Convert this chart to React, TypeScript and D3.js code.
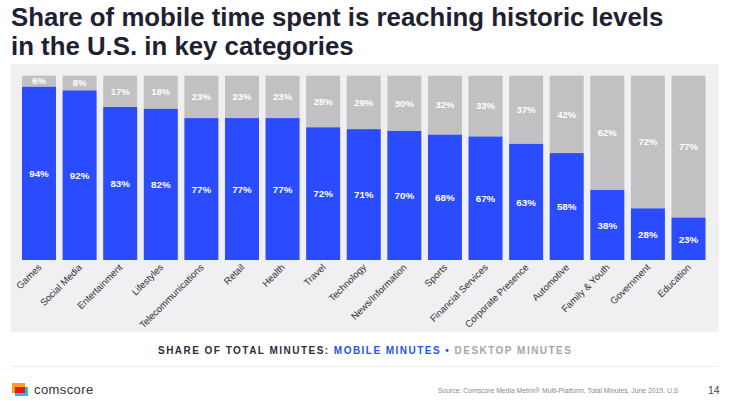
import * as d3 from "d3";

const categories = [
  "Games", "Social Media", "Entertainment", "Lifestyles", "Telecommunications",
  "Retail", "Health", "Travel", "Technology", "News/Information", "Sports",
  "Financial Services", "Corporate Presence", "Automotive", "Family & Youth",
  "Government", "Education",
];
const mobile = [94, 92, 83, 82, 77, 77, 77, 72, 71, 70, 68, 67, 63, 58, 38, 28, 23];
const desktop = [6, 8, 17, 18, 23, 23, 23, 28, 29, 30, 32, 33, 37, 42, 62, 72, 77];

const BLUE = "#2b4bff";
const GREY = "#c1c1c3";
const FONT = "'Liberation Sans', Arial, sans-serif";

export default function App() {
  const x = d3.scaleBand<string>().domain(categories).range([22, 705.5]).paddingInner(0.162);
  const y = d3.scaleLinear().domain([0, 100]).range([260, 75.7]);

  return (
    <svg
      width={729}
      height={401}
      viewBox="0 0 729 401"
      style={{ position: "absolute", left: 0, top: 0, background: "#fff" }}
      fontFamily={FONT}
    >
      <text x={11} y={26} fontSize={25.8} fontWeight="bold" fill="#1d2130">
        Share of mobile time spent is reaching historic levels
      </text>
      <text x={11} y={55} fontSize={25.8} fontWeight="bold" fill="#1d2130">
        in the U.S. in key categories
      </text>

      <rect x={11} y={64} width={708} height={268} fill="#f0eff1" />

      {categories.map((c, i) => {
        const bx = x(c)!;
        const w = x.bandwidth();
        const cx = bx + w / 2;
        const yTop = y(mobile[i]);
        const yFull = y(mobile[i] + desktop[i]);
        return (
          <g key={c}>
            <rect x={bx} y={yFull} width={w} height={yTop - yFull} fill={GREY} />
            <rect x={bx} y={yTop} width={w} height={y(0) - yTop} fill={BLUE} />
            <text x={cx} y={(yFull + yTop) / 2 + 3.2} textAnchor="middle" fontSize={9.5} fontWeight="bold" fill="#fff">
              {desktop[i]}%
            </text>
            <text x={cx} y={(yTop + y(0)) / 2 + 3.8} textAnchor="middle" fontSize={9.8} fontWeight="bold" fill="#fff">
              {mobile[i]}%
            </text>
            <text
              transform={`translate(${cx + 3},${268}) rotate(-45)`}
              textAnchor="end"
              fontSize={9.5}
              fill="#333"
            >
              {c}
            </text>
          </g>
        );
      })}

      <text x={158} y={353.5} fontSize={10} fontWeight="bold" letterSpacing={1.47} fill="#2a2d3a">
        SHARE OF TOTAL MINUTES:{" "}
        <tspan fill="#1f55ee">MOBILE MINUTES</tspan>
        <tspan fill="#1f55ee"> • </tspan>
        <tspan fill="#a5a6ab">DESKTOP MINUTES</tspan>
      </text>

      <line x1={11} x2={719} y1={366.5} y2={366.5} stroke="#eceded" />

      <rect x={15} y={387} width={13} height={9} fill="#22bfe0" />
      <rect x={12} y={383} width={13} height={10} fill="#f9a11b" />
      <rect x={15} y={387} width={10} height={6} fill="#e8141c" />
      <text x={34} y={394} fontSize={13} letterSpacing={0.4} fill="#333">
        comscore
      </text>

      <text x={438} y={393} fontSize={6.8} fill="#8a8a8a">
        Source: Comscore Media Metrix® Multi-Platform, Total Minutes, June 2019, U.S
      </text>
      <text x={708} y={394} fontSize={10.5} fill="#444">
        14
      </text>
    </svg>
  );
}
